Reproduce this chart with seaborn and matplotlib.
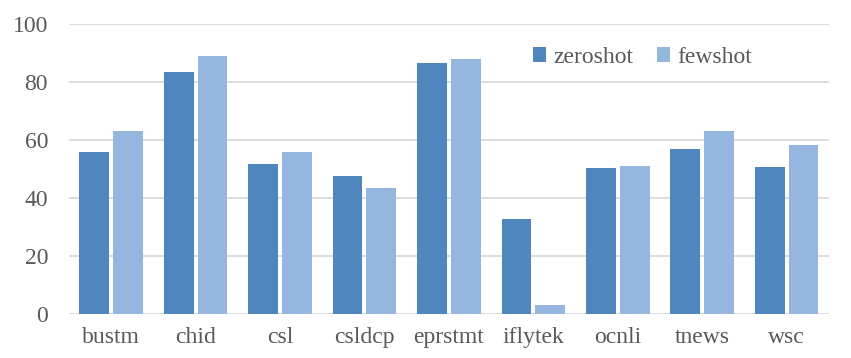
import pandas as pd
import matplotlib.pyplot as plt
import seaborn as sns

# Chart data
tasks = ["bustm", "chid", "csl", "csldcp", "eprstmt", "iflytek", "ocnli", "tnews", "wsc"]
zeroshot = [56.0, 83.6, 51.8, 47.7, 86.7, 32.8, 50.4, 56.9, 50.8]
fewshot = [63.1, 89.1, 55.9, 43.5, 87.9, 3.3, 51.1, 63.1, 58.3]
series_names = ["zeroshot", "fewshot"]
colors = ["#4f86bd", "#95b6de"]

# Long format for seaborn
df = pd.DataFrame({
    "task": tasks * 2,
    "score": zeroshot + fewshot,
    "setting": [series_names[0]] * len(tasks) + [series_names[1]] * len(tasks),
})

sns.set_style("white")
plt.rcParams["font.family"] = ["Liberation Serif", "DejaVu Serif"]

fig = plt.figure(figsize=(8.51, 3.58), dpi=100)
ax = fig.add_axes([0.081, 0.122, 0.893, 0.811])

sns.barplot(data=df, x="task", y="score", hue="setting", order=tasks,
            hue_order=series_names, palette=colors, width=0.8, gap=0.12,
            saturation=1, linewidth=0, ax=ax)

ax.set_ylim(0, 100)
ax.set_xlim(-0.5, len(tasks) - 0.5)
ax.set_yticks(range(0, 101, 20))
ax.yaxis.grid(True, color="#d9d9d9", linewidth=1.3)
ax.set_axisbelow(True)
for s in ax.spines.values():
    s.set_visible(False)
ax.set_xlabel("")
ax.set_ylabel("")
ax.tick_params(axis="y", length=0, pad=15, labelsize=17, labelcolor="#595959")
ax.tick_params(axis="x", length=0, pad=9, labelsize=17, labelcolor="#595959")

ax.legend(loc="center", bbox_to_anchor=(0.755, 0.84), bbox_transform=fig.transFigure,
          ncol=2, frameon=False, fontsize=17, handlelength=0.55, handleheight=0.55,
          handletextpad=0.3, columnspacing=1.0, labelcolor="#595959")

plt.savefig("out.png", dpi=100)
